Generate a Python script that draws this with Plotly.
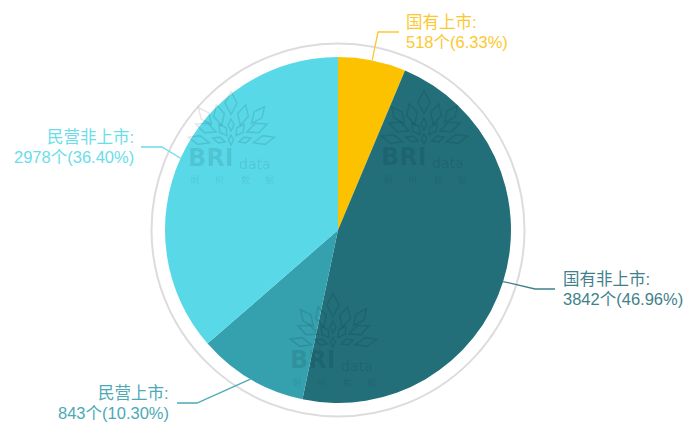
import math
import plotly.graph_objects as go

W, H = 687, 423

# Data
categories = ["国有上市", "国有非上市", "民营上市", "民营非上市"]
values = [518, 3842, 843, 2978]

# Style / layout
colors = ["#FCC200", "#226F7A", "#35A0AE", "#59D9E8"]
text_colors = ["#FCC830", "#3F818B", "#4CA9B5", "#6ADDEA"]
CX, CY, R = 338, 230, 173
RING_R = 186.5
elbows = [(378, 32), (535, 289), (197, 403), (162, 147)]
line_ends = [399, 555, 177, 141]
label_x = [406, 563, 169, 134]
label_y = [22, 279, 393, 137]
label_anchor = ["left", "left", "right", "right"]
watermarks = [(231, 103), (424, 102), (333, 305)]
wm_chars = ["明", "树", "数", "据"]
wm_char_dx = [-37, -12, 14, 38]


def fx(x):
    return x / W


def fy(y):
    return 1 - y / H


fig = go.Figure(go.Pie(
    labels=categories, values=values, sort=False, direction="clockwise", rotation=0,
    marker=dict(colors=colors, line=dict(width=0)), textinfo="none", hoverinfo="label+value+percent",
    showlegend=False,
    domain=dict(x=[fx(CX - R), fx(CX + R)], y=[fy(CY + R), fy(CY - R)]),
))

shapes = [dict(type="circle", xref="paper", yref="paper", layer="below",
               x0=fx(CX - RING_R), x1=fx(CX + RING_R), y0=fy(CY + RING_R), y1=fy(CY - RING_R),
               line=dict(color="#DCDCDC", width=2), fillcolor="rgba(0,0,0,0)")]
annotations = []
FONT = "Liberation Sans, Arial, Noto Sans CJK SC"
total = sum(values)
cum = 0
for i, v in enumerate(values):
    mid = (cum + v / 2) / total * 2 * math.pi
    cum += v
    sx, sy = CX + R * math.sin(mid), CY - R * math.cos(mid)
    ex, ey = elbows[i]
    path = f"M {fx(sx)} {fy(sy)} L {fx(ex)} {fy(ey)} L {fx(line_ends[i])} {fy(ey)}"
    shapes.append(dict(type="path", xref="paper", yref="paper", layer="above", path=path,
                       line=dict(color=text_colors[i], width=1.3)))
    lines = [f"{categories[i]}:", f"{v}个({v / total * 100:.2f}%)"]
    for j, t in enumerate(lines):
        annotations.append(dict(text=t, xref="paper", yref="paper", showarrow=False,
                                x=fx(label_x[i]), y=fy(label_y[i] + 20 * j),
                                xanchor=label_anchor[i], yanchor="middle",
                                borderpad=0, borderwidth=0,
                                font=dict(family=FONT, size=16.5, color=text_colors[i])))

# Watermark leaf arrangement: dx, dy, tilt, length, width
leaves = [(0, 0, 0, 23, 12), (-12, 12, -15, 21, 11), (12, 12, 15, 21, 11),
          (-26, 13, -38, 21, 10), (27, 12, 38, 21, 10),
          (-25, 25, -68, 22, 10), (26, 25, 68, 22, 10),
          (-8, 27, -35, 14, 8), (9, 27, 35, 14, 8), (0, 22, 0, 12, 6),
          (-32, 37, -75, 22, 9), (33, 37, 75, 22, 9),
          (-12, 37, -72, 13, 6), (14, 37, 72, 13, 6), (0, 37, 0, 10, 5)]
WM = "rgba(0,0,0,0.10)"
for bx, by in watermarks:
    for dx, dy, tilt, ln, wd in leaves:
        a = math.radians(tilt)
        pts = []
        for px, py in [(0, -ln / 2), (wd / 2, 0), (0, ln / 2), (-wd / 2, 0)]:
            pts.append((bx + dx + px * math.cos(a) - py * math.sin(a),
                        by + dy + px * math.sin(a) + py * math.cos(a)))
        p = "M " + " L ".join(f"{fx(x)} {fy(y)}" for x, y in pts) + " Z"
        shapes.append(dict(type="path", xref="paper", yref="paper", layer="above", path=p,
                           line=dict(color=WM, width=1.5)))
    annotations.append(dict(text="<b>BRI</b>", xref="paper", yref="paper", showarrow=False,
                            x=fx(bx - 43), y=fy(by + 55), xanchor="left", yanchor="middle",
                            borderpad=0, borderwidth=0,
                            font=dict(family="DejaVu Sans", size=24, color=WM)))
    annotations.append(dict(text="data", xref="paper", yref="paper", showarrow=False,
                            x=fx(bx + 8), y=fy(by + 61), xanchor="left", yanchor="middle",
                            borderpad=0, borderwidth=0,
                            font=dict(family="DejaVu Sans", size=14, color=WM)))
    for ch, cdx in zip(wm_chars, wm_char_dx):
        annotations.append(dict(text=ch, xref="paper", yref="paper", showarrow=False,
                                x=fx(bx + cdx), y=fy(by + 77), xanchor="center", yanchor="middle",
                                borderpad=0, borderwidth=0,
                                font=dict(family="Noto Sans CJK SC", size=9, color=WM)))

fig.update_layout(width=W, height=H, margin=dict(l=0, r=0, t=0, b=0),
                  paper_bgcolor="white", plot_bgcolor="white",
                  shapes=shapes, annotations=annotations, showlegend=False)
fig.write_html("out.html", post_script="document.body.style.margin='0';",
               config={"displayModeBar": False})
